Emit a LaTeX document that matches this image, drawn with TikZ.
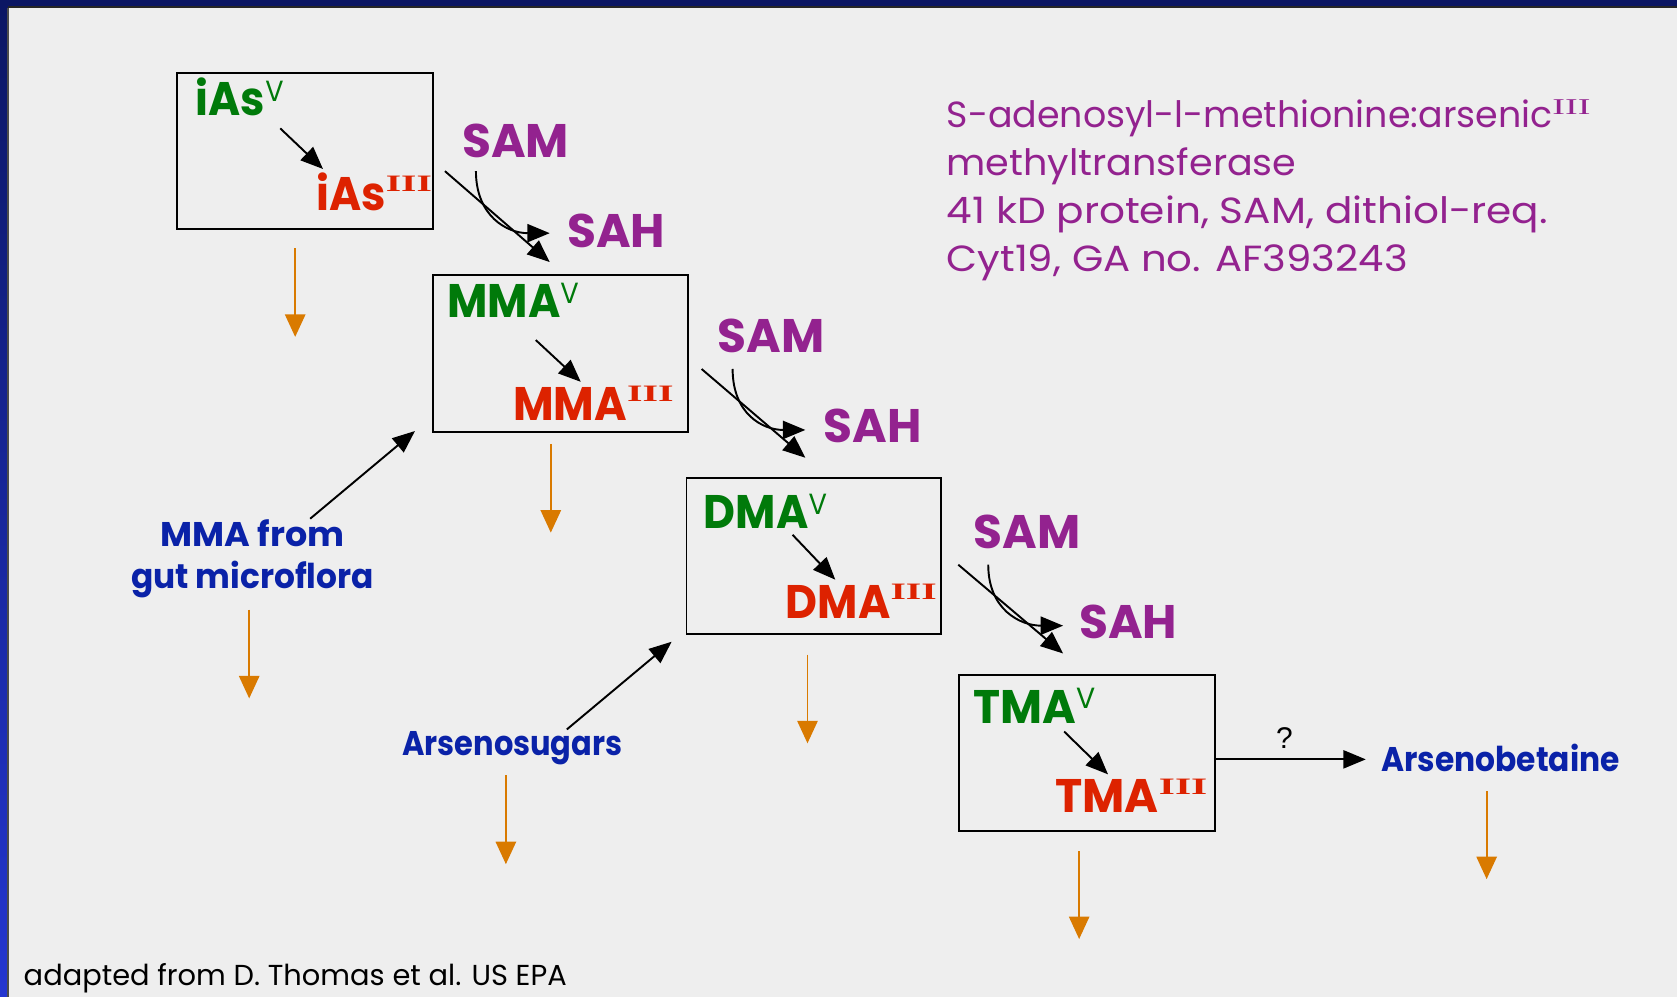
\documentclass[tikz,border=0pt]{standalone}
\usepackage{fontspec}
\setmainfont{Poppins}
\newfontfamily\qfont{Liberation Sans}
\newfontfamily\romfont{Liberation Serif}
\usetikzlibrary{arrows.meta,calc}

\definecolor{bgc}{HTML}{EEEEEE}
\definecolor{navy}{HTML}{0B1663}
\definecolor{rimblue}{HTML}{2436D0}
\definecolor{vgreen}{HTML}{007A0A}
\definecolor{iiired}{HTML}{DD2200}
\definecolor{sampurple}{HTML}{93228F}
\definecolor{srcblue}{HTML}{0A22A8}
\definecolor{excorange}{HTML}{D97A00}

% oxidation-state superscripts
\newcommand\supV{\raisebox{0.3em}{\scalebox{0.62}{\mdseries V}}}
\newcommand\supIII{\raisebox{0.4em}{\scalebox{0.9}[0.5]{\romfont\bfseries III}}}
\newcommand\enzIII{\raisebox{0.35em}{\scalebox{1.05}[0.62]{\romfont III}}}
% set a line to a given width, keeping its height
\newcommand\fitw[2]{\resizebox{#1}{\height}{#2}}

\tikzset{
  species/.style={inner sep=0pt, anchor=base west, font=\bfseries\fontsize{44}{44}\selectfont},
  ox5/.style={species, text=vgreen},
  ox3/.style={species, anchor=base east, text=iiired},
  cofactor/.style={species, text=sampurple},
  source/.style={inner sep=0pt, anchor=base, font=\bfseries\fontsize{32}{32}\selectfont, text=srcblue},
  enz/.style={inner sep=0pt, anchor=base west, font=\fontsize{34}{34}\selectfont, text=sampurple},
  stagebox/.style={draw, line width=1.8pt, anchor=north west, inner sep=0pt},
  rxn/.style={line width=1.8pt, -{Triangle[length=21pt,width=17pt]}},
  exc/.style={draw=excorange, line width=1.6pt, -{Triangle[length=21pt,width=19pt, fill=excorange]}},
}

\begin{document}
\begin{tikzpicture}[x=1pt,y=-1pt]
% page background and frame
\fill[bgc] (0,0) rectangle (1568,932);
\useasboundingbox (0,0) rectangle (1568,932);
\fill[navy] (0,0) rectangle (1568,6);
\fill[black!85] (0,6) rectangle (1568,7.5);
\shade[top color=navy, bottom color=rimblue] (0,0) rectangle (7,932);
\fill[black!70] (7,7.5) rectangle (8,932);

% stage boxes
\node[stagebox, minimum width=239pt, minimum height=146pt] (box1) at (165,67) {};
\node[stagebox, minimum width=238pt, minimum height=147pt] (box2) at (404,256) {};
\node[stagebox, minimum width=238pt, minimum height=146pt] (box3) at (641,446) {};
\node[stagebox, minimum width=239pt, minimum height=146pt] (box4) at (896,630) {};

% species inside the boxes
\node[ox5] (as5)  at (183,108) {\fitw{82pt}{iAs\supV}};
\node[ox3] (as3)  at (404,197) {\fitw{108pt}{iAs\supIII}};
\node[ox5] (mma5) at (418,297) {\fitw{123pt}{MMA\supV}};
\node[ox3] (mma3) at (630,393) {\fitw{150pt}{MMA\supIII}};
\node[ox5] (dma5) at (658,494) {\fitw{115pt}{DMA\supV}};
\node[ox3] (dma3) at (876,578) {\fitw{141pt}{DMA\supIII}};
\node[ox5] (tma5) at (910,676) {\fitw{114pt}{TMA\supV}};
\node[ox3] (tma3) at (1129,760) {\fitw{142pt}{TMA\supIII}};

% methyl donor / product
\node[cofactor] (sam1) at (432,147) {SAM};
\node[cofactor] (sah1) at (530,231) {SAH};
\node[cofactor] (sam2) at (671,330) {SAM};
\node[cofactor] (sah2) at (770,414) {SAH};
\node[cofactor] (sam3) at (910,513) {SAM};
\node[cofactor] (sah3) at (1009,597) {SAH};

% enzyme note
\node[enz] (e1) at (885,119) {\fitw{602pt}{S-adenosyl-l-methionine:arsenic\enzIII}};
\node[enz] (e2) at (885,164) {\fitw{327pt}{methyltransferase}};
\node[enz] (e3) at (885,209) {\fitw{562pt}{41 kD protein, SAM, dithiol-req.}};
\node[enz] (e4) at (885,254) {\fitw{431pt}{Cyt19, GA no. AF393243}};

% other sources
\node[source] (gut1) at (236,511) {\fitw{172pt}{MMA from}};
\node[source] (gut2) at (236,550) {\fitw{227pt}{gut microflora}};
\node[source] (sugar) at (479,706) {\fitw{206pt}{Arsenosugars}};
\node[source] (betaine) at (1403,721) {\fitw{223pt}{Arsenobetaine}};
\node[inner sep=0pt, anchor=base, font=\qfont\fontsize{28}{28}\selectfont] (qm) at (1201,700) {?};

\node[inner sep=0pt, anchor=base west, font=\fontsize{27}{27}\selectfont] (credit) at (22,921) {adapted from D. Thomas et al. US EPA};

% reduction arrows inside the boxes
\coordinate (r1a) at (262,120); \coordinate (r1b) at (302,158);
\coordinate (r2a) at (501,318); \coordinate (r2b) at (543,357);
\coordinate (r3a) at (741,500); \coordinate (r3b) at (781,542);
\coordinate (r4a) at (995,684); \coordinate (r4b) at (1036,724);
\draw[rxn] (r1a) -- (r1b);
\draw[rxn] (r2a) -- (r2b);
\draw[rxn] (r3a) -- (r3b);
\draw[rxn] (r4a) -- (r4b);

% methylation steps
\coordinate (m1a) at (416,160); \coordinate (m1b) at (514,245);
\coordinate (c1a) at (445,160); \coordinate (c1b) at (514,218);
\coordinate (m2a) at (656,345); \coordinate (m2b) at (753,428);
\coordinate (c2a) at (685,345); \coordinate (c2b) at (753,402);
\coordinate (m3a) at (896,528); \coordinate (m3b) at (994,611);
\coordinate (c3a) at (924,528); \coordinate (c3b) at (994,585);
\foreach \i in {1,2,3}{
  \draw[rxn] (m\i a) -- (m\i b);
  \draw[rxn] (c\i a) .. controls ($(c\i a)+(0,42)$) and ($(c\i b)+(-40,0)$) .. (c\i b);
}

% inputs from outside the pathway
\coordinate (g1) at (290,485); \coordinate (g2) at (388,403);
\coordinate (s1) at (530,682); \coordinate (s2) at (628,600);
\draw[rxn] (g1) -- (g2);
\draw[rxn] (s1) -- (s2);
\coordinate (q1) at (1135,710); \coordinate (q2) at (1277,710);
\draw[rxn] (q1) -- (q2);

% excretion arrows
\foreach \n/\x/\ya/\yb in {x1/276/232/315, x2/515/415/498, x3/755/612/695, x4/1009/796/878,
                            x5/233/570/653, x6/473/725/808, x7/1390/740/822}{
  \coordinate (\n a) at (\x,\ya);
  \coordinate (\n b) at (\x,\yb);
  \draw[exc] (\n a) -- (\n b);
}
\end{tikzpicture}
\end{document}
